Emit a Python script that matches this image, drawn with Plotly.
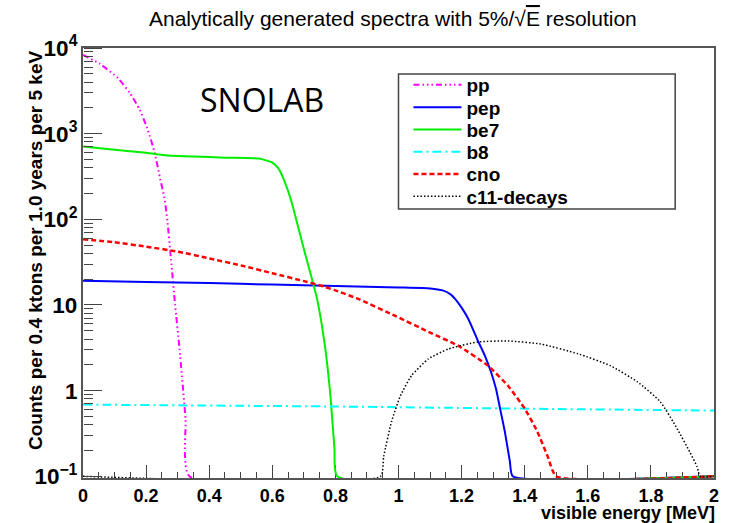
import plotly.graph_objects as go

# Visible-energy spectra (MeV) and counts per 5 keV bin; zero bins sit at the axis floor 0.1
pp_x = [0, 0.054, 0.110, 0.148, 0.180, 0.205, 0.227, 0.243, 0.259, 0.268, 0.279, 0.292, 0.306, 0.325, 0.3375, 2.0]
pp_y = [8300, 6520, 4480, 3000, 1900, 1115, 603, 316, 170, 92, 34, 10, 3.07, 0.47, 0.1, 0.1]

pep_x = [0, 0.2, 0.4, 0.6, 0.8, 1.0, 1.1, 1.14, 1.165, 1.18, 1.2, 1.221, 1.252, 1.274, 1.293, 1.309, 1.322, 1.337, 1.353, 1.362, 2.0]
pep_y = [19.2, 18.6, 18.0, 17.3, 16.6, 16.0, 15.6, 14.8, 13.3, 11.7, 9.3, 6.9, 3.8, 2.55, 1.66, 1.05, 0.617, 0.333, 0.149, 0.1, 0.1]

be7_x = [0, 0.1, 0.2, 0.243, 0.27, 0.35, 0.45, 0.558, 0.6, 0.62, 0.64, 0.66, 0.70, 0.742, 0.768, 0.785, 0.797, 0.806, 2.0]
be7_y = [706, 650, 598, 570, 555, 540, 525, 512, 460, 390, 270, 165, 45, 11.7, 3.1, 0.81, 0.21, 0.1, 0.1]

b8_x = [0, 0.5, 0.78, 1.0, 1.5, 2.0]
b8_y = [0.687, 0.665, 0.654, 0.64, 0.61, 0.585]

cno_x = [0, 0.1, 0.2, 0.3, 0.4, 0.5, 0.6, 0.7, 0.75, 0.8, 0.874, 0.99, 1.095, 1.19, 1.284, 1.347, 1.40, 1.44, 1.473, 1.50, 2.0]
cno_y = [58.5, 54, 48, 42, 35, 29, 23.5, 19, 17, 14.8, 11.7, 7.45, 4.85, 3.33, 1.95, 1.14, 0.617, 0.333, 0.17, 0.1, 0.1]

c11_x = [0, 0.943, 0.953, 0.978, 1.006, 1.041, 1.095, 1.158, 1.252, 1.347, 1.451, 1.568, 1.672, 1.757, 1.830, 1.883, 1.924, 1.946, 1.956, 2.0]
c11_y = [0.1, 0.1, 0.17, 0.436, 0.87, 1.49, 2.35, 3.06, 3.7, 3.8, 3.5, 2.7, 1.95, 1.27, 0.74, 0.36, 0.19, 0.13, 0.1, 0.1]

series = [
    ("pp", pp_x, pp_y, "#ff00ff", "6px,3px,1.5px,3px,1.5px,3px,1.5px,3px", 2),
    ("pep", pep_x, pep_y, "#0000ff", "solid", 2),
    ("be7", be7_x, be7_y, "#00ee00", "solid", 2),
    ("b8", b8_x, b8_y, "#00ffff", "9px,4px,2px,4px", 2),
    ("cno", cno_x, cno_y, "#ff0000", "5px,3px", 2.5),
    ("c11-decays", c11_x, c11_y, "#000000", "1.5px,2px", 1.5),
]

X_RANGE = [0, 2]
Y_RANGE = [-1.02, 4]  # log10 range; floor just under 0.1 so the zero-bin lines stay visible

fig = go.Figure()

AX = "#555555"
TICK = "#444444"
FONT = "Liberation Sans, Arial, sans-serif"

# one legend per entry so the rows can sit closer than plotly's default spacing
row_top = 85.0
row_step = 22.3
plot_top, plot_bottom = 48.0, 478.0
legend_layouts = {}
for i, (name, xs, ys, color, dash, width) in enumerate(series):
    key = "legend" if i == 0 else f"legend{i + 1}"
    fig.add_trace(go.Scatter(
        x=xs, y=ys, mode="lines", name=name,
        line=dict(color=color, dash=dash, width=width, shape="spline", smoothing=0.5),
        legend=key,
    ))
    py = row_top + i * row_step
    legend_layouts[key] = dict(
        x=(410 - 83) / 634, xanchor="left",
        y=(plot_bottom - py) / (plot_bottom - plot_top), yanchor="middle",
        bgcolor="rgba(0,0,0,0)", borderwidth=0,
        font=dict(family=FONT, size=19, color="black", weight="bold"),
        itemwidth=48,
    )

# empty traces that carry the extra axes used for tick marks
fig.add_trace(go.Scatter(x=[], y=[], xaxis="x2", yaxis="y", showlegend=False, hoverinfo="skip"))
fig.add_trace(go.Scatter(x=[], y=[], xaxis="x", yaxis="y2", showlegend=False, hoverinfo="skip"))
fig.add_trace(go.Scatter(x=[], y=[], xaxis="x", yaxis="y3", showlegend=False, hoverinfo="skip"))

x_minor = [i * 0.05 for i in range(41) if i % 4 != 0]
y_major = [10.0 ** e for e in range(-1, 5)]
y_minor = [m * 10.0 ** e for e in range(-1, 4) for m in range(2, 10)]

# tick axes sit on the left frame edge and point their ticks to the right, into the frame
y_tick_axis = dict(
    overlaying="y", anchor="free", position=0, side="right", type="log", range=Y_RANGE,
    tickmode="array", showticklabels=False, ticks="outside", tickwidth=1, tickcolor=TICK,
    showline=False, showgrid=False, zeroline=False,
)

fig.update_layout(
    width=731, height=523,
    margin=dict(l=83, r=14, t=48, b=45),
    paper_bgcolor="white", plot_bgcolor="white",
    showlegend=True,
    **legend_layouts,
    xaxis2=dict(
        overlaying="x", anchor="y", side="bottom", range=X_RANGE,
        tickmode="array", tickvals=x_minor, showticklabels=False,
        ticks="inside", ticklen=6, tickwidth=1, tickcolor=TICK,
        showline=False, showgrid=False, zeroline=False, layer="below traces",
    ),
    yaxis2=dict(y_tick_axis, tickvals=y_major, ticklen=18),
    yaxis3=dict(y_tick_axis, tickvals=y_minor, ticklen=9),
)

fig.update_layout(xaxis=dict(
    range=X_RANGE,
    tickmode="linear", tick0=0, dtick=0.2,
    ticks="inside", ticklen=13, tickwidth=1, tickcolor=TICK,
    showline=True, linecolor=AX, linewidth=2, mirror=True,
    showgrid=False, zeroline=False, layer="below traces",
    tickfont=dict(family=FONT, size=18, color="black", weight="bold"),
))
fig.update_layout(yaxis=dict(
    type="log", range=Y_RANGE,
    tickmode="linear", tick0=0, dtick=1, exponentformat="power",
    ticks="",
    showline=True, linecolor=AX, linewidth=2, mirror=True,
    showgrid=False, zeroline=False, layer="below traces",
    tickfont=dict(family=FONT, size=18, color="black", weight="bold"),
))

# legend frame
fig.add_shape(type="rect", xref="paper", yref="paper",
              x0=(400 - 83) / 634, x1=(678 - 83) / 634,
              y0=(478 - 209) / 430, y1=(478 - 74) / 430,
              line=dict(color="#444444", width=1.5), fillcolor="white", layer="above")

fig.add_annotation(
    text="Analytically generated spectra with 5%/√<span style='text-decoration:overline'>E</span> resolution",
    xref="paper", yref="paper", x=0.5, xshift=-6, y=1, yshift=30, xanchor="center", yanchor="middle",
    showarrow=False, font=dict(family=FONT, size=21, color="black"),
)
fig.add_annotation(
    text="SNOLAB", xref="paper", yref="paper",
    x=(199 - 83) / 634, y=(478 - 99) / 430, xanchor="left", yanchor="middle",
    showarrow=False, font=dict(family="Open Sans, sans-serif", size=32, color="black"),
)
fig.add_annotation(
    text="visible energy [MeV]", xref="paper", yref="paper",
    x=1, xshift=3, y=0, yshift=-35, xanchor="right", yanchor="middle",
    showarrow=False, font=dict(family=FONT, size=18, color="black", weight="bold"),
)
fig.add_annotation(
    text="Counts per 0.4 ktons per 1.0 years per 5 keV", xref="paper", yref="paper",
    x=0, xshift=-48, y=1, xanchor="center", yanchor="top", textangle=-90,
    showarrow=False, font=dict(family=FONT, size=19, color="black", weight="bold"),
)

fig.write_html("out.html")
